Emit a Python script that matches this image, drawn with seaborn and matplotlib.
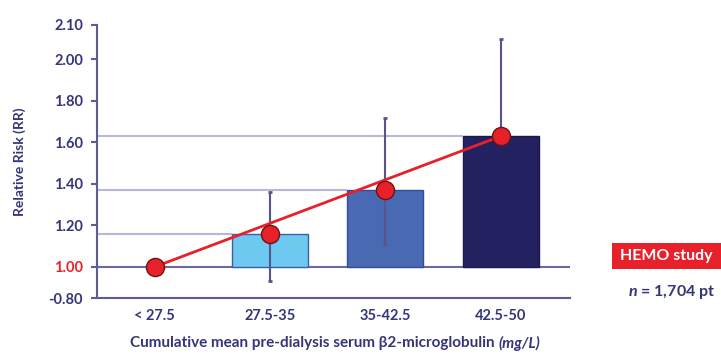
import numpy as np
import pandas as pd
import seaborn as sns
import matplotlib.pyplot as plt
from matplotlib.patches import Rectangle

sns.set_theme(style="white")
plt.rcParams['font.family'] = ['Lato', 'DejaVu Sans']
plt.rcParams['mathtext.fontset'] = 'custom'
plt.rcParams['mathtext.it'] = 'Lato:italic:bold'
plt.rcParams['mathtext.rm'] = 'Lato:bold'
plt.rcParams['mathtext.bf'] = 'Lato:bold'

# ---- data ----
categories = ['< 27.5', '27.5-35', '35-42.5', '42.5-50']
rr = [1.00, 1.16, 1.37, 1.63]
ci_low = [1.00, 0.93, 1.11, 1.63]
ci_high = [1.00, 1.36, 1.72, 2.10]
ytick_rr = [0.85, 1.00, 1.20, 1.40, 1.60, 1.80, 2.00, 2.166]
ytick_labels = ['-0.80', '1.00', '1.20', '1.40', '1.60', '1.80', '2.00', '2.10']
bar_colors = ['#ffffff', '#6ec9f0', '#4a69b3', '#23215f']
bar_edges = ['none', '#3f5ea8', '#2f4d9a', '#1a1850']

baseline = 1.0
rr_a = np.array(rr)
excess = rr_a - baseline
df = pd.DataFrame({'cat': categories, 'excess': excess})

navy = '#35357a'
axis_col = '#5c5c96'
red = '#e8202a'

fig = plt.figure(figsize=(7.21, 3.56), dpi=100)
ax = fig.add_axes([97/721, 1-298/356, (570-97)/721, (298-25)/356])

bw = 0.66
sns.barplot(data=df, x='cat', y='excess', hue='cat', palette=bar_colors,
            legend=False, width=bw, saturation=1, ax=ax, zorder=2)
for p, ec in zip(ax.patches, bar_edges):
    if ec == 'none':
        p.set_visible(False)
    else:
        p.set_edgecolor(ec)
        p.set_linewidth(1.0)

xs = np.arange(len(categories))
# reference lines from axis to each bar
ax.hlines(excess[1:], xmin=-0.5, xmax=xs[1:] - bw/2, color='#b8b8d6', lw=1.5, zorder=1)
ax.axhline(0, color='#6a6aa2', lw=1.5, zorder=1)

# error bars
lo = excess[1:] - (np.array(ci_low[1:]) - baseline)
hi = (np.array(ci_high[1:]) - baseline) - excess[1:]
ax.errorbar(xs[1:], excess[1:], yerr=[lo, hi], fmt='none', ecolor='#55558c',
            elinewidth=1.5, capsize=1.5, capthick=2, zorder=3)

# trend line between first and last estimate
sns.lineplot(x=[xs[0], xs[-1]], y=[excess[0], excess[-1]], color=red, lw=2,
             ax=ax, zorder=4)
sns.scatterplot(x=xs, y=excess, s=170, color=red, edgecolor='#6a1515',
                linewidth=1, ax=ax, zorder=5)

ax.set_xlim(-0.5, 3.6)
ax.set_ylim(ytick_rr[0] - baseline, ytick_rr[-1] - baseline)
ax.set_yticks(np.array(ytick_rr) - baseline)
ax.set_yticklabels(ytick_labels)
for t, lab in zip(ax.get_yticklabels(), ytick_labels):
    t.set_color(red if lab == '1.00' else navy)
    t.set_fontweight('bold')
    t.set_fontsize(10.5)
ax.tick_params(axis='y', length=4, width=1.5, color=axis_col, pad=6, left=True)
ax.tick_params(axis='x', length=0, pad=8)
for t in ax.get_xticklabels():
    t.set_color(navy)
    t.set_fontweight('bold')
    t.set_fontsize(10.5)

for s in ['top', 'right']:
    ax.spines[s].set_visible(False)
for s in ['left', 'bottom']:
    ax.spines[s].set_color(axis_col)
    ax.spines[s].set_linewidth(1.5)

ax.set_ylabel('Relative Risk (RR)', color=navy, fontsize=10, fontweight='bold', labelpad=16)
ax.set_xlabel('')

# x label: regular bold part + italic part
renderer = fig.canvas.get_renderer()
xl_y = 1 - 343/356
t1 = fig.text(0, xl_y, 'Cumulative mean pre-dialysis serum β2-microglobulin ', color=navy,
              fontsize=11, fontweight='bold', va='center', ha='left')
t2 = fig.text(0, xl_y, '(mg/L)', color=navy, fontsize=11, fontweight='bold',
              style='italic', va='center', ha='left')
w1 = t1.get_window_extent(renderer).width
w2 = t2.get_window_extent(renderer).width
x0 = 335 - (w1 + w2) / 2
t1.set_x(x0 / 721)
t2.set_x((x0 + w1) / 721)

fig.patches.append(Rectangle((612/721, 1-269/356), 115/721, 26/356,
                             transform=fig.transFigure, facecolor=red,
                             edgecolor='none', zorder=1))
fig.text(620/721, 1-256/356, 'HEMO study', color='white', fontsize=11.5,
         fontweight='bold', va='center', ha='left', zorder=2)
fig.text(672/721, 1-292/356, r'$\mathit{n}$ = 1,704 pt', color=navy, fontsize=11.5,
         fontweight='bold', va='center', ha='center')

fig.savefig('out.png', dpi=100)
